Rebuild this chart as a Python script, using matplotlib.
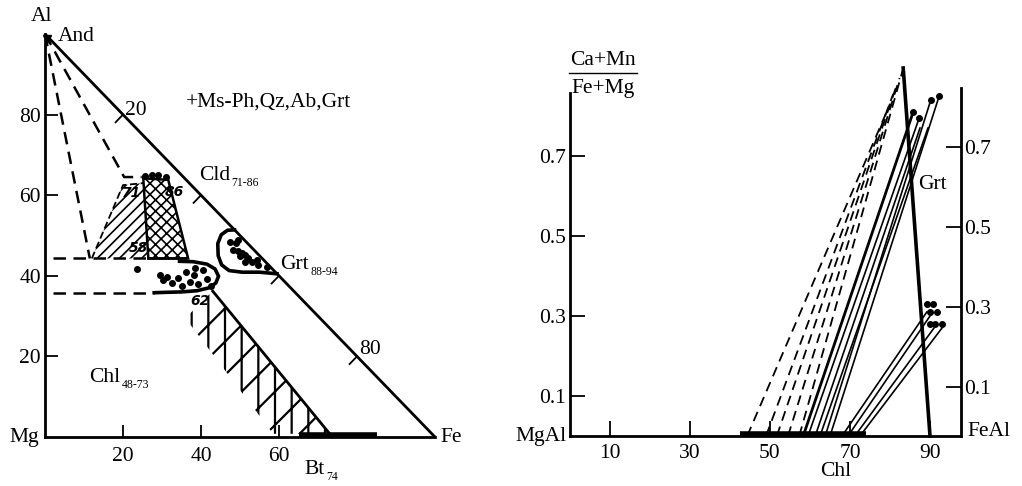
import matplotlib
matplotlib.use("Agg")
import matplotlib.pyplot as plt
import numpy as np
from matplotlib.patches import Polygon

plt.rcParams["font.family"] = ["Liberation Serif", "DejaVu Serif"]
plt.rcParams["hatch.linewidth"] = 1.2

# ---------------- left panel: Al - Mg - Fe triangle ----------------
tri_ticks = [20, 40, 60, 80]          # ticks along the Al-Fe side
left_yticks = [20, 40, 60, 80]
left_xticks = [20, 40, 60]

# tie lines from andalusite (dashed)
tie_and_1_x = [0, 11.5]
tie_and_1_y = [100, 44.3]
tie_and_2_x = [0, 20.3, 24.8]
tie_and_2_y = [100, 64.5, 64.5]
upper_dash_x = [2, 26.5]
upper_dash_y = [44.3, 44.3]
lower_dash_x = [2, 28]
lower_dash_y = [35.8, 35.8]

# chloritoid fields
cld_fine_x = [12.0, 20.0, 25.2, 26.5]
cld_fine_y = [44.3, 62.5, 63.0, 44.3]
cld_cross_x = [25.2, 31.6, 36.7, 26.5]
cld_cross_y = [64.2, 63.8, 44.3, 44.3]
cld_dots_x = [25.6, 27.4, 29.0, 31.0]
cld_dots_y = [64.8, 65.0, 65.0, 64.6]

# chlorite lens
chl_lens_x = [34.5, 38.0, 41.5, 43.6, 44.5, 43.8, 42.0, 39.0, 35.0, 31.0, 28.0]
chl_lens_y = [43.6, 43.5, 42.9, 41.7, 39.9, 38.2, 37.0, 36.3, 36.0, 35.9, 35.8]
chl_dots_x = [23.6, 29.5, 30.3, 31.3, 32.6, 34.1, 35.1, 36.2, 37.2, 38.2, 39.2,
              40.5, 41.5, 42.6, 38.5]
chl_dots_y = [41.7, 40.2, 39.0, 39.7, 38.2, 39.5, 37.5, 40.9, 38.5, 40.2, 38.0,
              41.4, 39.2, 37.5, 41.9]

# biotite band
bt_band_x = [36.0, 43.0, 73.0, 58.5]
bt_band_y = [29.5, 36.2, 0.8, 0.8]
bt_edge_x = [43.0, 73.0]
bt_edge_y = [36.2, 0.8]
bt_bar_x = [65, 85]
bt_bar_y = [0.6, 0.6]

# garnet loop against the Al-Fe side
grt_loop_x = [48.6, 46.8, 45.2, 44.3, 44.4, 45.3, 47.2, 50.5, 55.0, 59.5]
grt_loop_y = [51.4, 51.3, 50.2, 48.0, 45.0, 42.7, 41.3, 40.9, 40.9, 40.5]
grt_dots_x = [47.4, 49.0, 49.6, 48.3, 49.6, 50.4, 51.3, 50.0, 52.1, 53.0, 54.3,
              51.3, 54.7, 56.8]
grt_dots_y = [48.5, 48.1, 48.9, 46.5, 46.1, 45.6, 45.2, 44.8, 44.4, 43.5, 43.9,
              43.5, 42.6, 42.2]

# ---------------- right panel: Chl - Grt tie lines ----------------
right_xticks = [10, 30, 50, 70, 90]
right_yticks = [0.1, 0.3, 0.5, 0.7]
grt_line_x = [83.3, 90.0]
grt_line_y = [0.92, 0.0]

dash_chl_x = [44.3, 49.0, 51.7, 54.5, 57.3]
dash_top_x = [80.0, 80.8, 81.6, 82.4, 83.2]
dash_top_y = [0.83, 0.855, 0.875, 0.895, 0.915]

solid_chl_x = [58.3, 59.5, 61.3, 62.5, 63.8, 65.0]
solid_top_x = [85.8, 87.3, 87.5, 89.5, 90.2, 92.3]
solid_top_y = [0.81, 0.795, 0.77, 0.77, 0.84, 0.85]
upper_dot_x = [85.8, 87.3, 90.2, 92.3]
upper_dot_y = [0.81, 0.795, 0.84, 0.85]

low_chl_x = [68.0, 69.5, 71.2, 72.5]
low_top_x = [89.2, 90.0, 91.0, 93.0]
low_top_y = [0.31, 0.30, 0.27, 0.27]
low_dot_x = [89.2, 90.8, 90.0, 91.8, 90.0, 91.3, 93.0]
low_dot_y = [0.33, 0.33, 0.31, 0.31, 0.28, 0.28, 0.28]

chl_bar_x = [42.5, 74.0]
chl_bar_y = [0.004, 0.004]

FS = 15.5   # main text size
SUB = 8.5   # subscript size


def text_sub(ax, x, y, base, sub):
    t = ax.text(x, y, base, fontsize=FS, ha="left", va="center")
    ax.annotate(sub, xy=(1, 0.1), xycoords=t, xytext=(1, 0),
                textcoords="offset points", fontsize=SUB,
                ha="left", va="center")


fig = plt.figure(figsize=(10.22, 4.86), dpi=100)

# left axes: x 0..100 -> px 45..435, y 0..100 -> px 437..34
ax1 = fig.add_axes([0, 0, 470 / 1022, 1])
ax1.set_xlim(-45 / 3.9, (470 - 45) / 3.9)
ax1.set_ylim(-(486 - 437) / 4.03, 437 / 4.03)

for side in ["top", "right"]:
    ax1.spines[side].set_visible(False)
ax1.spines["left"].set_position(("data", 0))
ax1.spines["bottom"].set_position(("data", 0))
ax1.spines["left"].set_bounds(0, 100)
ax1.spines["bottom"].set_bounds(0, 100)
for side in ["left", "bottom"]:
    ax1.spines[side].set_linewidth(2.0)
ax1.set_xticks(left_xticks)
ax1.set_yticks(left_yticks)
ax1.tick_params(direction="in", length=9, width=1.3, labelsize=FS)
ax1.tick_params(axis="x", pad=7)
ax1.tick_params(axis="y", pad=3)

ax1.plot([0, 100], [100, 0], color="black", lw=2.0, solid_capstyle="butt")
for t in tri_ticks:
    px, py = t, 100 - t
    ax1.plot([px, px - 1.9], [py, py - 1.9], color="black", lw=1.3)
# andalusite point at the Al corner
ax1.plot([0.6], [98.8], marker="v", color="black", ms=6)

dash = dict(color="black", lw=1.8, dashes=(5, 3))
ax1.plot(tie_and_1_x, tie_and_1_y, **dash)
ax1.plot(tie_and_2_x, tie_and_2_y, **dash)
ax1.plot(upper_dash_x, upper_dash_y, **dash)
ax1.plot(lower_dash_x, lower_dash_y, **dash)

ax1.add_patch(Polygon(np.column_stack([cld_fine_x, cld_fine_y]), closed=True,
                      facecolor="none", edgecolor="black", lw=0, hatch="///"))
ax1.plot(cld_fine_x[:3], cld_fine_y[:3], color="black", lw=1.3, dashes=(4, 2))
ax1.add_patch(Polygon(np.column_stack([cld_cross_x, cld_cross_y]), closed=True,
                      facecolor="none", edgecolor="black", lw=1.8, hatch="xxx"))
ax1.plot(cld_dots_x, cld_dots_y, "o", color="black", ms=4)

with plt.rc_context({"hatch.linewidth": 1.6}):
    ax1.add_patch(Polygon(np.column_stack([bt_band_x, bt_band_y]), closed=True,
                          facecolor="none", edgecolor="black", lw=0, hatch="/|"))
ax1.plot(bt_edge_x, bt_edge_y, color="black", lw=2.0)
ax1.plot(bt_bar_x, bt_bar_y, color="black", lw=4, solid_capstyle="butt")

ax1.plot(chl_lens_x, chl_lens_y, color="black", lw=2.6)
ax1.plot([26.5, 36.0], [44.3, 44.3], color="black", lw=1.8)
ax1.plot(chl_dots_x, chl_dots_y, "o", color="black", ms=4)

ax1.plot(grt_loop_x, grt_loop_y, color="black", lw=2.6)
ax1.plot(grt_dots_x, grt_dots_y, "o", color="black", ms=4)

num = dict(fontsize=10, family="DejaVu Sans", style="italic", weight="bold",
           ha="center", va="center")
ax1.text(22.3, 60.5, "71", **num)
ax1.text(24.0, 46.8, "58", **num)
ax1.text(33.2, 60.9, "86", **num)
ax1.text(39.7, 33.8, "62", **num)

ax1.text(-1.0, 104.3, "Al", fontsize=FS, ha="center", va="center")
ax1.text(3.3, 99.3, "And", fontsize=FS, ha="left", va="center")
ax1.text(-1.5, 0, "Mg", fontsize=FS, ha="right", va="center")
ax1.text(101.5, 0, "Fe", fontsize=FS, ha="left", va="center")
ax1.text(20.5, 81.0, "20", fontsize=FS, ha="left", va="center")
ax1.text(80.5, 21.6, "80", fontsize=FS, ha="left", va="center")
ax1.text(36.0, 83.1, "+Ms-Ph,Qz,Ab,Grt", fontsize=FS, ha="left", va="center")
text_sub(ax1, 39.5, 65.0, "Cld", "71-86")
text_sub(ax1, 60.3, 42.9, "Grt", "88-94")
text_sub(ax1, 11.3, 14.8, "Chl", "48-73")
text_sub(ax1, 66.5, -8.0, "Bt", "74")

# right axes: x 0..100 -> px 570..970, y 0..1 -> px 436..36
ax2 = fig.add_axes([500 / 1022, 0, 522 / 1022, 1])
ax2.set_xlim(-70 / 4, (1022 - 570) / 4)
ylo, yhi = -(486 - 436) / 400, 436 / 400
ax2.set_ylim(ylo, yhi)
for side in ["top", "right"]:
    ax2.spines[side].set_visible(False)
ax2.spines["left"].set_position(("data", 0))
ax2.spines["bottom"].set_position(("data", 0))
ax2.spines["left"].set_bounds(0, 0.8575)
ax2.spines["bottom"].set_bounds(0, 97.8)
for side in ["left", "bottom"]:
    ax2.spines[side].set_linewidth(2.0)
ax2.set_xticks(right_xticks)
ax2.set_yticks(right_yticks)
ax2.set_yticklabels([f"{v:.1f}" for v in right_yticks])
ax2.tick_params(direction="in", length=11, width=1.3, labelsize=FS)
ax2.tick_params(axis="x", pad=6)
ax2.tick_params(axis="y", pad=3)

ax3 = ax2.twinx()
ax3.set_ylim(ylo - 0.0225, yhi - 0.0225)
for side in ["top", "left", "bottom"]:
    ax3.spines[side].set_visible(False)
ax3.spines["right"].set_position(("data", 97.8))
ax3.spines["right"].set_bounds(-0.0225, 0.8475)
ax3.spines["right"].set_linewidth(2.0)
ax3.set_yticks(right_yticks)
ax3.set_yticklabels([f"{v:.1f}" for v in right_yticks])
ax3.tick_params(direction="in", length=11, width=1.3, labelsize=FS, pad=2)

rdash = dict(color="black", lw=1.3, dashes=(5.5, 3.5))
for x0, xt, yt in zip(dash_chl_x, dash_top_x, dash_top_y):
    ax2.plot([x0, xt], [0, yt], **rdash)
for i, (x0, xt, yt) in enumerate(zip(solid_chl_x, solid_top_x, solid_top_y)):
    ax2.plot([x0, xt], [0, yt], color="black", lw=2.0 if i == 0 else 1.2)
for x0, xt, yt in zip(low_chl_x, low_top_x, low_top_y):
    ax2.plot([x0, xt], [0, yt], color="black", lw=1.2)
ax2.plot(grt_line_x, grt_line_y, color="black", lw=2.6)
ax2.plot(upper_dot_x, upper_dot_y, "o", color="black", ms=4)
ax2.plot(low_dot_x, low_dot_y, "o", color="black", ms=4)
ax2.plot(chl_bar_x, chl_bar_y, color="black", lw=4, solid_capstyle="butt")

ax2.text(8.25, 0.94, "Ca+Mn", fontsize=FS, ha="center", va="center")
ax2.text(8.25, 0.87, "Fe+Mg", fontsize=FS, ha="center", va="center")
ax2.plot([-0.3, 16.8], [0.9075, 0.9075], color="black", lw=1.0, clip_on=False)
ax2.text(-0.8, 0, "MgAl", fontsize=FS, ha="right", va="center")
ax2.text(99.3, 0.012, "FeAl", fontsize=FS, ha="left", va="center")
ax2.text(66.3, -0.088, "Chl", fontsize=FS, ha="center", va="center")
ax2.text(90.5, 0.63, "Grt", fontsize=FS, ha="center", va="center")

fig.savefig("out.png", dpi=100)
